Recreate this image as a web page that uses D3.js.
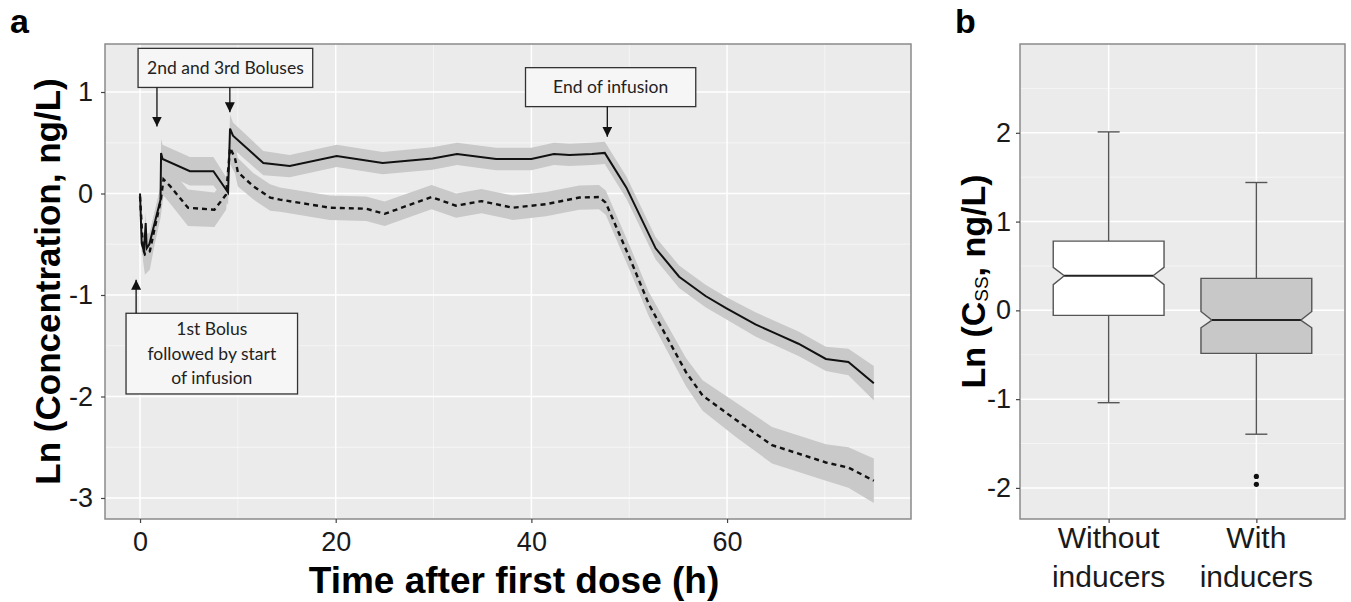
<!DOCTYPE html>
<html>
<head>
<meta charset="utf-8">
<script src="https://cdn.jsdelivr.net/npm/d3@7"></script>
<style>
    body { margin: 0; background: #fff; }
</style>
</head>
<body>
<svg id="chart" width="1351" height="602"></svg>
<script>
// ---- panel a : concentration vs time ----
const withoutTime = [0, 0.17, 0.4, 0.58, 0.68, 0.95, 2.1, 2.15, 2.3, 5.1, 7.5, 9.0, 9.2, 9.5, 12.6, 15.3, 20.1, 24.8, 29.9, 32.4, 36.4, 40, 42.3, 43.9, 46.2, 47.5, 49.7, 52.7, 55.1, 57.8, 59.9, 62.9, 65.0, 67.3, 70.1, 72.4, 75]
const withoutConc = [0, -0.49, -0.57, -0.29, -0.54, -0.50, -0.06, 0.40, 0.34, 0.22, 0.22, 0.01, 0.64, 0.57, 0.30, 0.27, 0.37, 0.30, 0.345, 0.39, 0.34, 0.34, 0.39, 0.38, 0.39, 0.40, 0.06, -0.54, -0.82, -1.01, -1.13, -1.29, -1.38, -1.48, -1.63, -1.66, -1.87]
const withoutBand = [0.02, 0.08, 0.1, 0.1, 0.1, 0.1, 0.12, 0.14, 0.14, 0.14, 0.14, 0.12, 0.14, 0.13, 0.12, 0.11, 0.11, 0.11, 0.11, 0.11, 0.11, 0.11, 0.11, 0.11, 0.11, 0.11, 0.11, 0.11, 0.11, 0.11, 0.11, 0.12, 0.12, 0.12, 0.12, 0.13, 0.17]

const withTime = [0, 0.3, 0.5, 1.0, 1.5, 2.1, 2.4, 3.1, 4.9, 7.6, 8.8, 9.2, 9.7, 10.0, 11.6, 13.3, 14.3, 19.4, 23.1, 25, 29.8, 32.3, 34.9, 38.1, 41.5, 44.9, 46.9, 47.6, 50.2, 52, 54.1, 55.8, 57.5, 60.9, 64.6, 70.1, 72.4, 75]
const withConc = [-0.03, -0.54, -0.60, -0.57, -0.34, -0.08, 0.14, 0.07, -0.14, -0.16, -0.01, 0.45, 0.35, 0.21, 0.07, -0.04, -0.06, -0.14, -0.15, -0.20, -0.035, -0.12, -0.075, -0.14, -0.105, -0.04, -0.035, -0.09, -0.67, -1.09, -1.46, -1.76, -1.99, -2.23, -2.48, -2.65, -2.70, -2.83]
const withBand = [0.03, 0.12, 0.2, 0.18, 0.16, 0.16, 0.16, 0.17, 0.18, 0.17, 0.15, 0.16, 0.15, 0.14, 0.13, 0.13, 0.12, 0.12, 0.12, 0.12, 0.12, 0.12, 0.12, 0.12, 0.12, 0.12, 0.12, 0.12, 0.12, 0.12, 0.13, 0.14, 0.15, 0.17, 0.18, 0.18, 0.2, 0.22]

const timeTicks = [0, 20, 40, 60]
const timeMinor = [10, 30, 50, 70]
const concTicks = [-3, -2, -1, 0, 1]
const concMinor = [-2.5, -1.5, -0.5, 0.5]

// annotation boxes, in data units: box [t0, t1, top, bottom], arrows [t, from, to]
const notes = [
    { lines: ['2nd and 3rd Boluses'], box: [-0.2, 17.65, 1.43, 1.045], arrows: [[1.73, 1.045, 0.66], [9.18, 1.045, 0.80]] },
    { lines: ['End of infusion'], box: [39.4, 56.8, 1.24, 0.856], arrows: [[47.76, 0.856, 0.56]] },
    { lines: ['1st Bolus', 'followed by start', 'of infusion'], box: [-1.43, 16.1, -1.18, -1.975], arrows: [[-0.4, -1.18, -0.85]] },
]

// ---- panel b : steady state concentration ----
const groups = ['Without inducers', 'With inducers']
const whiskerLow = [-1.04, -1.395]
const q1 = [-0.056, -0.485]
const median = [0.39, -0.11]
const q3 = [0.78, 0.36]
const whiskerHigh = [2.01, 1.44]
const notchLow = [0.29, -0.196]
const notchHigh = [0.485, -0.013]
const outliers = [[], [-1.87, -1.96]]
const cssTicks = [-2, -1, 0, 1, 2]
const cssMinor = [-1.5, -0.5, 0.5, 1.5, 2.5]

const font = '"Liberation Sans", Arial, sans-serif'
const svg = d3.select('#chart').attr('font-family', font)

const styleAxis = (g, size) => {
    g.attr('font-family', font)
    g.select('.domain').remove()
    g.selectAll('.tick line').attr('stroke', '#444').attr('stroke-width', 1.2)
    g.selectAll('.tick text').attr('font-size', size).attr('fill', '#1a1a1a')
}

// ================= panel a =================
const pa = { left: 105, right: 911, top: 44, bottom: 519 }
const x = d3.scaleLinear().domain([-3.58, 78.8]).range([pa.left, pa.right])
const y = d3.scaleLinear().domain([-3.207, 1.473]).range([pa.bottom, pa.top])

svg.append('rect')
    .attr('x', pa.left).attr('y', pa.top)
    .attr('width', pa.right - pa.left).attr('height', pa.bottom - pa.top)
    .attr('fill', '#ebebeb')

const gridA = svg.append('g')
gridA.selectAll('.vmin').data(timeMinor).join('line')
    .attr('x1', d => x(d)).attr('x2', d => x(d)).attr('y1', pa.top).attr('y2', pa.bottom)
    .attr('stroke', '#f7f7f7').attr('stroke-width', 0.8)
gridA.selectAll('.hmin').data(concMinor).join('line')
    .attr('y1', d => y(d)).attr('y2', d => y(d)).attr('x1', pa.left).attr('x2', pa.right)
    .attr('stroke', '#f7f7f7').attr('stroke-width', 0.8)
gridA.selectAll('.vmaj').data(timeTicks).join('line')
    .attr('x1', d => x(d)).attr('x2', d => x(d)).attr('y1', pa.top).attr('y2', pa.bottom)
    .attr('stroke', '#fff').attr('stroke-width', 1.5)
gridA.selectAll('.hmaj').data(concTicks).join('line')
    .attr('y1', d => y(d)).attr('y2', d => y(d)).attr('x1', pa.left).attr('x2', pa.right)
    .attr('stroke', '#fff').attr('stroke-width', 1.5)

const series = [
    { t: withoutTime, v: withoutConc, se: withoutBand, dash: null },
    { t: withTime, v: withConc, se: withBand, dash: '5,4' },
]

const area = d3.area().x(d => x(d.t)).y0(d => y(d.v - d.se)).y1(d => y(d.v + d.se))
const line = d3.line().x(d => x(d.t)).y(d => y(d.v))

series.forEach(s => {
    const pts = s.t.map((t, i) => ({ t: t, v: s.v[i], se: s.se[i] }))
    svg.append('path').datum(pts)
        .attr('fill', '#c9c9c9').attr('d', area)
})
series.forEach(s => {
    const pts = s.t.map((t, i) => ({ t: t, v: s.v[i] }))
    svg.append('path').datum(pts)
        .attr('fill', 'none')
        .attr('stroke', '#111')
        .attr('stroke-width', s.dash ? 2.4 : 2)
        .attr('stroke-dasharray', s.dash)
        .attr('d', line)
})

// annotations
svg.append('defs').append('marker')
    .attr('id', 'head').attr('viewBox', '0 0 10 10')
    .attr('refX', 10).attr('refY', 5)
    .attr('markerWidth', 10).attr('markerHeight', 10)
    .attr('markerUnits', 'userSpaceOnUse')
    .attr('orient', 'auto')
    .append('path').attr('d', 'M0,0L10,5L0,10Z').attr('fill', '#111')

notes.forEach(n => {
    const [t0, t1, top, bot] = n.box
    svg.append('rect')
        .attr('x', x(t0)).attr('y', y(top))
        .attr('width', x(t1) - x(t0)).attr('height', y(bot) - y(top))
        .attr('fill', '#f6f6f6').attr('stroke', '#333').attr('stroke-width', 1.3)
    const cx = (x(t0) + x(t1)) / 2
    const cy = (y(top) + y(bot)) / 2
    const lh = 24.5
    n.lines.forEach((l, i) => {
        svg.append('text')
            .attr('x', cx)
            .attr('y', cy + (i - (n.lines.length - 1) / 2) * lh + 6)
            .attr('text-anchor', 'middle')
            .attr('font-family', 'Lato, "Open Sans", sans-serif')
            .attr('font-size', 17.5)
            .attr('fill', '#222')
            .text(l)
    })
    n.arrows.forEach(([t, from, to]) => {
        svg.append('line')
            .attr('x1', x(t)).attr('x2', x(t))
            .attr('y1', y(from)).attr('y2', y(to))
            .attr('stroke', '#111').attr('stroke-width', 1.3)
            .attr('marker-end', 'url(#head)')
    })
})

svg.append('rect')
    .attr('x', pa.left).attr('y', pa.top)
    .attr('width', pa.right - pa.left).attr('height', pa.bottom - pa.top)
    .attr('fill', 'none').attr('stroke', '#8a8a8a').attr('stroke-width', 1.5)

const xAxisA = svg.append('g')
    .attr('transform', `translate(0,${pa.bottom})`)
    .call(d3.axisBottom(x).tickValues(timeTicks).tickFormat(d => String(d)).tickSize(4).tickPadding(9))
styleAxis(xAxisA, 27)

const yAxisA = svg.append('g')
    .attr('transform', `translate(${pa.left},0)`)
    .call(d3.axisLeft(y).tickValues(concTicks).tickFormat(d => String(d)).tickSize(4).tickPadding(8))
styleAxis(yAxisA, 27)

svg.append('text')
    .attr('x', (pa.left + pa.right) / 2 + 6).attr('y', 593)
    .attr('text-anchor', 'middle')
    .attr('font-size', 37).attr('font-weight', 'bold')
    .text('Time after first dose (h)')

svg.append('text')
    .attr('transform', `translate(60,${(pa.top + pa.bottom) / 2}) rotate(-90)`)
    .attr('text-anchor', 'middle')
    .attr('font-size', 35).attr('font-weight', 'bold')
    .text('Ln (Concentration, ng/L)')

svg.append('text')
    .attr('x', 10).attr('y', 33)
    .attr('font-size', 34).attr('font-weight', 'bold')
    .text('a')

// ================= panel b =================
const pb = { left: 1020, right: 1345, top: 44, bottom: 519 }
const xb = d3.scalePoint().domain(groups).range([pb.left, pb.right]).padding(0.6)
const yb = d3.scaleLinear().domain([-2.35, 3.0]).range([pb.bottom, pb.top])
const boxW = xb.step() * 0.75
const inset = 11

svg.append('rect')
    .attr('x', pb.left).attr('y', pb.top)
    .attr('width', pb.right - pb.left).attr('height', pb.bottom - pb.top)
    .attr('fill', '#ebebeb')

const gridB = svg.append('g')
gridB.selectAll('.hmin').data(cssMinor).join('line')
    .attr('y1', d => yb(d)).attr('y2', d => yb(d)).attr('x1', pb.left).attr('x2', pb.right)
    .attr('stroke', '#f7f7f7').attr('stroke-width', 0.8)
gridB.selectAll('.hmaj').data(cssTicks).join('line')
    .attr('y1', d => yb(d)).attr('y2', d => yb(d)).attr('x1', pb.left).attr('x2', pb.right)
    .attr('stroke', '#fff').attr('stroke-width', 1.5)
gridB.selectAll('.vmaj').data(groups).join('line')
    .attr('x1', d => xb(d)).attr('x2', d => xb(d)).attr('y1', pb.top).attr('y2', pb.bottom)
    .attr('stroke', '#fff').attr('stroke-width', 1.5)

const boxFill = ['#ffffff', '#c8c8c8']
groups.forEach((g, i) => {
    const cx = xb(g)
    const l = cx - boxW / 2
    const r = cx + boxW / 2
    const capW = 22
    // whiskers
    svg.append('line')
        .attr('x1', cx).attr('x2', cx).attr('y1', yb(q3[i])).attr('y2', yb(whiskerHigh[i]))
        .attr('stroke', '#555').attr('stroke-width', 1.4)
    svg.append('line')
        .attr('x1', cx).attr('x2', cx).attr('y1', yb(q1[i])).attr('y2', yb(whiskerLow[i]))
        .attr('stroke', '#555').attr('stroke-width', 1.4)
    ;[whiskerHigh[i], whiskerLow[i]].forEach(w => {
        svg.append('line')
            .attr('x1', cx - capW / 2).attr('x2', cx + capW / 2)
            .attr('y1', yb(w)).attr('y2', yb(w))
            .attr('stroke', '#555').attr('stroke-width', 1.4)
    })
    // notched box
    const pts = [
        [l, yb(q3[i])], [r, yb(q3[i])], [r, yb(notchHigh[i])], [r - inset, yb(median[i])],
        [r, yb(notchLow[i])], [r, yb(q1[i])], [l, yb(q1[i])], [l, yb(notchLow[i])],
        [l + inset, yb(median[i])], [l, yb(notchHigh[i])],
    ]
    svg.append('path')
        .attr('d', 'M' + pts.join('L') + 'Z')
        .attr('fill', boxFill[i]).attr('stroke', '#555').attr('stroke-width', 1.4)
    svg.append('line')
        .attr('x1', l + inset).attr('x2', r - inset)
        .attr('y1', yb(median[i])).attr('y2', yb(median[i]))
        .attr('stroke', '#222').attr('stroke-width', 2)
    svg.selectAll(null).data(outliers[i]).join('circle')
        .attr('cx', cx).attr('cy', d => yb(d)).attr('r', 2.6)
        .attr('fill', '#111')
})

svg.append('rect')
    .attr('x', pb.left).attr('y', pb.top)
    .attr('width', pb.right - pb.left).attr('height', pb.bottom - pb.top)
    .attr('fill', 'none').attr('stroke', '#8a8a8a').attr('stroke-width', 1.5)

const yAxisB = svg.append('g')
    .attr('transform', `translate(${pb.left},0)`)
    .call(d3.axisLeft(yb).tickValues(cssTicks).tickFormat(d => String(d)).tickSize(4).tickPadding(5))
styleAxis(yAxisB, 27)

const xAxisB = svg.append('g')
    .attr('transform', `translate(0,${pb.bottom})`)
    .call(d3.axisBottom(xb).tickSize(4).tickFormat(''))
styleAxis(xAxisB, 27)

groups.forEach(g => {
    const words = g.split(' ')
    const t = svg.append('text')
        .attr('text-anchor', 'middle')
        .attr('font-size', 30)
        .attr('fill', '#1a1a1a')
    words.forEach((w, i) => {
        t.append('tspan').attr('x', xb(g)).attr('y', 548 + i * 39).text(w)
    })
})

const ybTitle = svg.append('text')
    .attr('transform', `translate(985,${(pb.top + pb.bottom) / 2}) rotate(-90)`)
    .attr('text-anchor', 'middle')
    .attr('font-size', 34).attr('font-weight', 'bold')
ybTitle.append('tspan').text('Ln (C')
ybTitle.append('tspan').attr('font-size', 19).attr('font-weight', 'normal').attr('dy', 3).text('SS')
ybTitle.append('tspan').attr('dy', -3).text(', ng/L)')

svg.append('text')
    .attr('x', 955).attr('y', 33)
    .attr('font-size', 34).attr('font-weight', 'bold')
    .text('b')
</script>
</body>
</html>
